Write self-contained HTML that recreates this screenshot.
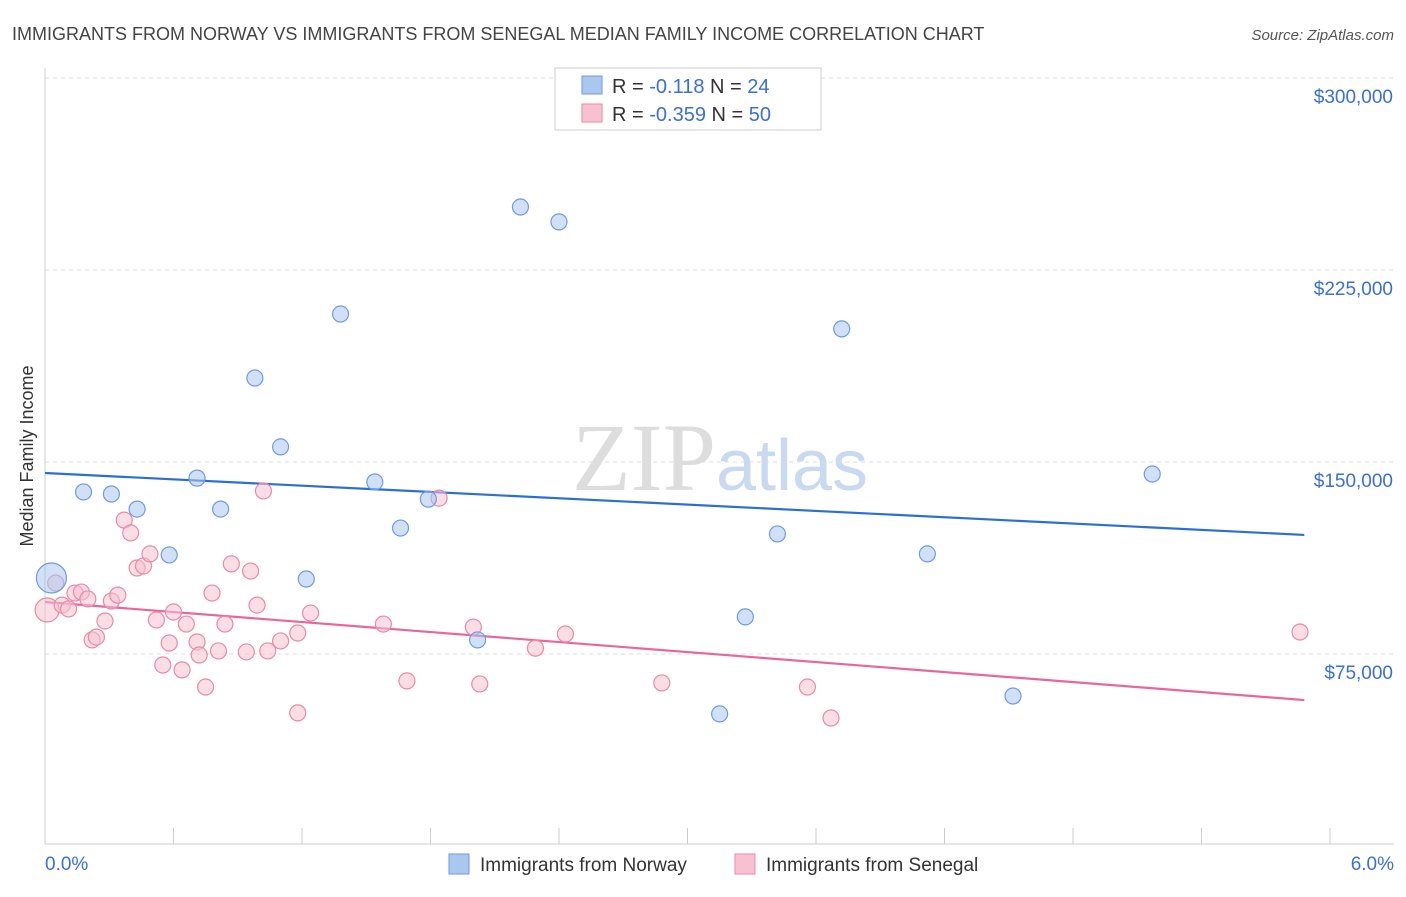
<!DOCTYPE html>
<html><head><meta charset="utf-8"><style>
body{margin:0;background:#fff;font-family:"Liberation Sans",sans-serif}
</style></head><body>
<svg id="chart" width="1406" height="892" xmlns="http://www.w3.org/2000/svg" font-family="Liberation Sans, sans-serif">
<text x="12" y="40" font-size="18" fill="#444">IMMIGRANTS FROM NORWAY VS IMMIGRANTS FROM SENEGAL MEDIAN FAMILY INCOME CORRELATION CHART</text>
<text x="1394" y="40" font-size="15" fill="#555" font-style="italic" text-anchor="end">Source: ZipAtlas.com</text>
<text transform="translate(33,456) rotate(-90)" font-size="18" fill="#333" text-anchor="middle">Median Family Income</text>
<text x="720" y="490" font-size="96" fill="#ddd" text-anchor="middle" font-family="Liberation Serif, serif">ZIP<tspan fill="#c9d9ef" font-family="Liberation Sans, sans-serif" font-size="72">atlas</tspan></text>
<g id="grid"></g><g id="axes"></g><g id="lines"></g><g id="pts"></g>
<g>
<rect x="555" y="68" width="266" height="62" fill="#fff" stroke="#ccc"/>
<rect x="582" y="76" width="20" height="18" fill="#a9c7ef" stroke="#6f9be0"/>
<rect x="582" y="104" width="20" height="18" fill="#f7c1d2" stroke="#e88aa8"/>
<text x="612" y="93" font-size="20" fill="#333">R =  <tspan fill="#3a6fd8">-0.118</tspan>   N =  <tspan fill="#3a6fd8">24</tspan></text>
<text x="612" y="121" font-size="20" fill="#333">R = <tspan fill="#3a6fd8">-0.359</tspan>   N = <tspan fill="#3a6fd8">50</tspan></text>
</g>
<g>
<rect x="449" y="854" width="20" height="20" fill="#a9c7ef" stroke="#6f9be0"/>
<text x="480" y="871" font-size="19" fill="#333">Immigrants from Norway</text>
<rect x="735" y="854" width="20" height="20" fill="#f7c1d2" stroke="#e88aa8"/>
<text x="766" y="871" font-size="19" fill="#333">Immigrants from Senegal</text>
</g>
</svg>
<script>
const yTicks=[75000,150000,225000,300000];
const yTickLabels=["$75,000","$150,000","$225,000","$300,000"];
const xTickCount=10;
const xLabels=["0.0%","6.0%"];
const norwayX=[0.03,0.18,0.31,0.43,0.58,0.71,0.82,0.98,1.10,1.22,1.38,1.54,1.66,1.79,2.02,2.22,2.40,3.15,3.27,3.42,3.72,4.12,4.52,5.17];
const norwayY=[104700,138300,137500,131600,113700,143700,131600,182800,155900,104300,207800,142200,124200,135500,80500,249600,243800,51600,89500,121900,202000,114100,58600,145300];
const senegalX=[0.01,0.05,0.08,0.11,0.14,0.17,0.20,0.22,0.24,0.28,0.31,0.34,0.37,0.40,0.43,0.46,0.49,0.52,0.55,0.58,0.60,0.64,0.66,0.71,0.72,0.75,0.78,0.81,0.84,0.87,0.94,0.96,0.99,1.02,1.04,1.10,1.18,1.18,1.24,1.58,1.69,1.84,2.00,2.03,2.29,2.43,2.88,3.56,3.67,5.86];
const senegalY=[92200,102700,94100,92600,98800,99200,96500,80500,81600,87900,95700,98000,127300,122300,108600,109400,114100,88300,70700,79300,91400,68800,86700,79700,74600,62100,98800,76200,86700,110200,75800,107400,94100,138700,76200,80100,52000,83200,91000,86700,64500,135900,85500,63300,77300,82800,63700,62100,50000,83600];
const norwayTrend=[145700,121500];
const senegalTrend=[95300,57000];
const trendX=[0,5.88];
const X=v=>45+v/6*1285, Y=v=>654-(v-75000)*192/75000;
const NS="http://www.w3.org/2000/svg";
function mk(p,t,a){const e=document.createElementNS(NS,t);for(const k in a)e.setAttribute(k,a[k]);document.getElementById(p).appendChild(e);return e;}
yTicks.forEach((v,i)=>{
 const l=mk('grid','line',{x1:45,x2:1394,y1:Y(v),y2:Y(v),stroke:'#ddd','stroke-dasharray':'4,4'});
 
 
 const t=mk('grid','text',{x:1393,y:Y(v)+25,'font-size':19,fill:'#3a6fd8','text-anchor':'end'});t.textContent=yTickLabels[i];
 
 
});
const ax=mk('axes','line',{x1:45,x2:1394,y1:844,y2:844,stroke:'#ccc'});


const ay=mk('axes','line',{x1:45,x2:45,y1:68,y2:844,stroke:'#ccc'});


for(let i=0;i<=xTickCount;i++){const xv=i*6/xTickCount;const t=mk('axes','line',{x1:X(xv),x2:X(xv),y1:828,y2:844,stroke:'#ccc'});
 
 }
[[0,'start',45],[6,'end',1394]].forEach((d,i)=>{const t=mk('axes','text',{x:d[2],y:870,'font-size':19,fill:'#3a6fd8','text-anchor':d[1]});t.textContent=xLabels[i];
 
 });
function pts(xs,ys,fill,stroke,name){xs.forEach((x,i)=>{const r=i===0?(name==='norway-point'?15:12):8;
 const c=mk('pts','circle',{cx:X(x),cy:Y(ys[i]),r:r,fill:fill,'fill-opacity':0.55,stroke:stroke,'stroke-width':1.2});
 
 });}
pts(senegalX,senegalY,'#f7c1d2','#e88aa8','senegal-point');
pts(norwayX,norwayY,'#a9c7ef','#6f9be0','norway-point');
const l1=mk('lines','line',{x1:X(trendX[0]),x2:X(trendX[1]),y1:Y(norwayTrend[0]),y2:Y(norwayTrend[1]),stroke:'#2b6fd6','stroke-width':2.2});


const l2=mk('lines','line',{x1:X(trendX[0]),x2:X(trendX[1]),y1:Y(senegalTrend[0]),y2:Y(senegalTrend[1]),stroke:'#e8679a','stroke-width':2.2});


</script>
</body></html>
